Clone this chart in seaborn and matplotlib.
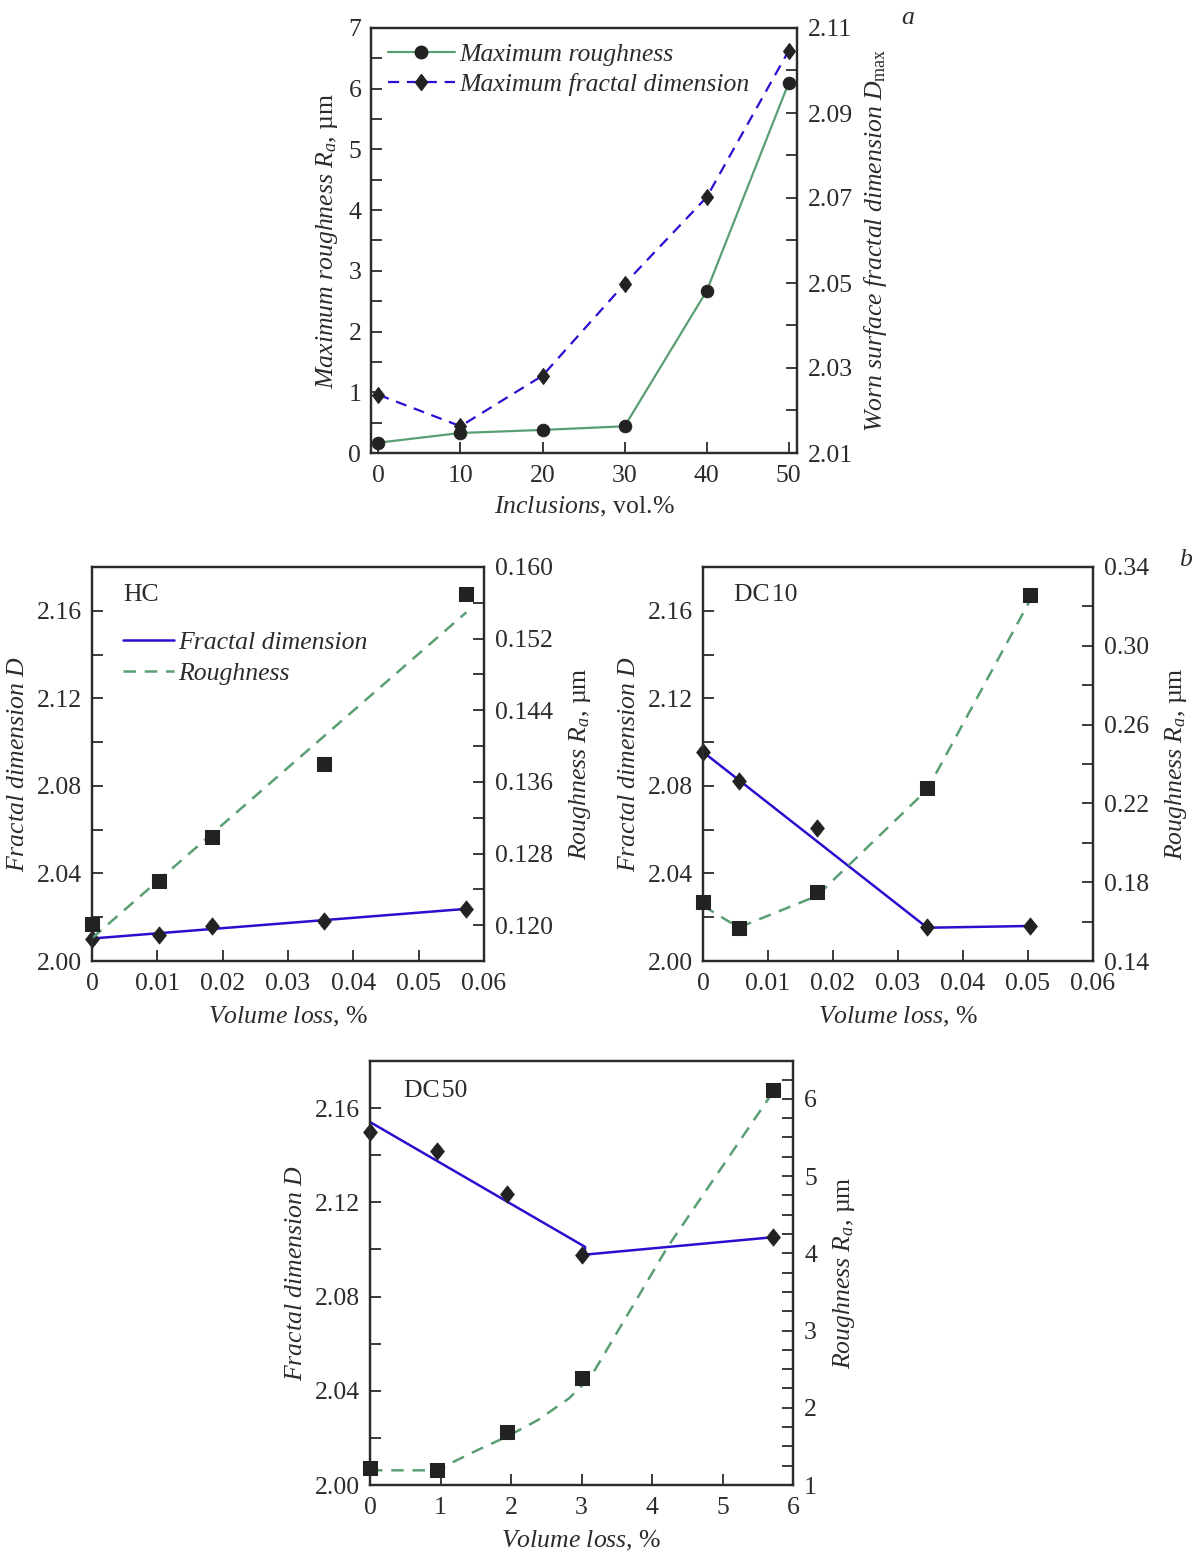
import numpy as np
import pandas as pd
import matplotlib
matplotlib.use("Agg")
import matplotlib.pyplot as plt
from matplotlib.lines import Line2D
from matplotlib.markers import MarkerStyle
from matplotlib.transforms import Affine2D
from matplotlib.ticker import MultipleLocator, FixedLocator, FormatStrFormatter, FuncFormatter
import seaborn as sns

# Data
# panel a
incl = [0, 10, 20, 30, 40, 50]
max_ra = [0.17, 0.33, 0.38, 0.44, 2.67, 6.10]
max_d = [2.0237, 2.0163, 2.0282, 2.0498, 2.0702, 2.1047]

# panel b, HC
hc_vol = [0, 0.0103, 0.0184, 0.0355, 0.0573]
hc_d = [2.0102, 2.0120, 2.0158, 2.0183, 2.0238]
hc_ra = [0.1201, 0.1249, 0.1299, 0.1380, 0.1570]

# panel b, DC10
dc10_vol = [0, 0.0055, 0.0175, 0.0345, 0.0503]
dc10_d = [2.0955, 2.0822, 2.0609, 2.0155, 2.0160]
dc10_ra = [0.170, 0.157, 0.175, 0.228, 0.326]
dc10_fit_vol = [0, 0.0345, 0.0503]
dc10_fit_d = [2.0955, 2.0152, 2.0160]
dc10_curve_ra = [0.168, 0.157, 0.173, 0.227, 0.323]

# panel b, DC50
dc50_vol = [0, 0.95, 1.95, 3.0, 5.72]
dc50_d = [2.1498, 2.1417, 2.1237, 2.0978, 2.1052]
dc50_ra = [1.22, 1.19, 1.68, 2.38, 6.11]
dc50_fit_vol = [0, 3.05, 3.05, 5.72]
dc50_fit_d = [2.1541, 2.1011, 2.0978, 2.1052]
dc50_curve_vol = [0, 0.98, 1.14, 1.52, 1.95, 2.38, 2.82, 3.0, 3.19, 4.22, 5.71]
dc50_curve_ra = [1.19, 1.19, 1.28, 1.45, 1.63, 1.84, 2.12, 2.28, 2.49, 4.08, 6.08]

# Style
sns.set_theme(style="ticks")
plt.rcParams["font.family"] = ["Liberation Serif", "DejaVu Serif"]
plt.rcParams["mathtext.fontset"] = "custom"
plt.rcParams["mathtext.rm"] = "Liberation Serif"
plt.rcParams["mathtext.it"] = "Liberation Serif:italic"
plt.rcParams["mathtext.bf"] = "Liberation Serif:bold"

FS = 18.5
INK = "#2b2b2b"
GREEN = "#5a9f74"
BLUE = "#2a0fd0"
MK = "#222222"
DASH = (0, (5, 3.5))
DIAMOND = MarkerStyle("D", transform=Affine2D().scale(0.8, 1.0))

fig = plt.figure(figsize=(11.97, 15.53), dpi=100)
W, H = 1197, 1553


def make_axes(l, r, t, b):
    return fig.add_axes([l / W, 1 - b / H, (r - l) / W, (b - t) / H])


def style(ax, ax2):
    for a in (ax, ax2):
        for s in a.spines.values():
            s.set_color(INK)
            s.set_linewidth(1.6)
    ax.tick_params(axis="both", which="both", direction="in", colors=INK,
                   labelsize=FS, top=False, right=False, width=1.3)
    ax.tick_params(axis="y", which="both", length=8, pad=7)
    ax.tick_params(axis="x", which="major", length=8, pad=9)
    ax2.tick_params(axis="y", which="both", direction="in", colors=INK,
                    labelsize=FS, length=8, width=1.3, pad=8)


# ---------------- panel a ----------------
ax = make_axes(371, 797, 28, 453)
ax2 = ax.twinx()
sns.lineplot(x=incl, y=max_ra, ax=ax, color=GREEN, lw=1.6, marker="o",
             markersize=9, markerfacecolor=MK, markeredgecolor=MK, zorder=3)
sns.lineplot(x=incl, y=max_d, ax=ax2, color=BLUE, lw=1.6, marker=DIAMOND,
             markersize=8, markerfacecolor=MK, markeredgecolor=MK,
             linestyle=DASH, zorder=3)
ax.set_xlim(-0.9, 51)
ax.set_ylim(0, 7)
ax2.set_ylim(2.01, 2.11)
ax.yaxis.set_major_locator(MultipleLocator(1))
ax.yaxis.set_minor_locator(MultipleLocator(0.5))
ax.xaxis.set_major_locator(MultipleLocator(10))
ax2.yaxis.set_major_locator(FixedLocator([2.01, 2.03, 2.05, 2.07, 2.09, 2.11]))
ax2.yaxis.set_minor_locator(MultipleLocator(0.01))
ax2.yaxis.set_major_formatter(FormatStrFormatter("%.2f"))
ax.set_xlabel(r"$Inclusions$, vol.%", fontsize=FS, color=INK, labelpad=5)
ax.set_ylabel(r"$Maximum\ roughness\ R_a$, µm", fontsize=FS, color=INK, labelpad=6)
ax2.set_ylabel(r"$Worn\ surface\ fractal\ dimension\ D_{\rm max}$", fontsize=FS,
               color=INK, labelpad=6)
style(ax, ax2)
h = [Line2D([], [], color=GREEN, lw=1.6, marker="o", markersize=9,
            markerfacecolor=MK, markeredgecolor=MK),
     Line2D([], [], color=BLUE, lw=1.6, marker=DIAMOND, markersize=8,
            markerfacecolor=MK, markeredgecolor=MK, linestyle=DASH)]
leg = ax2.legend(h, ["Maximum roughness", "Maximum fractal dimension"],
                 loc="upper left", bbox_to_anchor=(0.0, 1.005), frameon=False,
                 handlelength=2.6, handletextpad=0.2, labelspacing=0.3,
                 prop=dict(size=FS, style="italic"), borderaxespad=0.25)
for t in leg.get_texts():
    t.set_color(INK)
fig.text(908 / W, 1 - 18 / H, "a", fontsize=FS, style="italic", color=INK,
         ha="center", va="center")


def panel_b(l, r, t, b, xlim, ra_lim, ra_ticks, ra_minor, xstep, name):
    ax = make_axes(l, r, t, b)
    ax2 = ax.twinx()
    ax.set_xlim(*xlim)
    ax.set_ylim(2.00, 2.18)
    ax2.set_ylim(*ra_lim)
    ax.xaxis.set_major_locator(MultipleLocator(xstep))
    ax.yaxis.set_major_locator(MultipleLocator(0.04))
    ax.yaxis.set_minor_locator(MultipleLocator(0.02))
    ax.yaxis.set_major_formatter(FormatStrFormatter("%.2f"))
    ax2.yaxis.set_major_locator(FixedLocator(ra_ticks))
    ax2.yaxis.set_minor_locator(MultipleLocator(ra_minor))
    ax.set_xlabel(r"$Volume\ loss$, %", fontsize=FS, color=INK, labelpad=7)
    ax.set_ylabel(r"$Fractal\ dimension\ D$", fontsize=FS, color=INK, labelpad=6)
    ax2.set_ylabel(r"$Roughness\ R_a$, µm", fontsize=FS, color=INK, labelpad=10)
    ax.text(0.08, 0.93, name, transform=ax.transAxes, fontsize=FS, color=INK,
            ha="left", va="center")
    return ax, ax2


def xfmt(v, pos):
    return "0" if v == 0 else f"{v:.2f}"


# ---------------- panel b: HC ----------------
ax, ax2 = panel_b(92, 484, 567, 961, (0, 0.06), (0.116, 0.160),
                  [0.120, 0.128, 0.136, 0.144, 0.152, 0.160], 0.004, 0.01, "HC")
sns.regplot(x=np.array(hc_vol), y=np.array(hc_d), ax=ax, ci=None, scatter=False,
            line_kws=dict(color=BLUE, lw=1.8))
sns.regplot(x=np.array(hc_vol), y=np.array(hc_ra), ax=ax2, ci=None, scatter=False,
            line_kws=dict(color=GREEN, lw=1.8, linestyle=DASH))
sns.scatterplot(x=hc_vol, y=hc_d, ax=ax, marker=DIAMOND, s=75, color=MK,
                edgecolor=MK, zorder=4, clip_on=False)
sns.scatterplot(x=hc_vol, y=hc_ra, ax=ax2, marker="s", s=90, color=MK,
                edgecolor=MK, zorder=4, clip_on=False)
ax.xaxis.set_major_formatter(FuncFormatter(xfmt))
ax2.yaxis.set_major_formatter(FormatStrFormatter("%.3f"))
style(ax, ax2)
ax.set_xlim(0, 0.06)
hb = [Line2D([], [], color=BLUE, lw=1.8),
      Line2D([], [], color=GREEN, lw=1.8, linestyle=DASH)]
leg = ax2.legend(hb, ["Fractal dimension", "Roughness"], loc="upper left",
                 bbox_to_anchor=(0.02, 0.895), frameon=False, handlelength=2.0,
                 handletextpad=0.15, labelspacing=0.3,
                 prop=dict(size=FS, style="italic"))
for t in leg.get_texts():
    t.set_color(INK)

# ---------------- panel b: DC10 ----------------
ax, ax2 = panel_b(703, 1093, 567, 961, (0, 0.06), (0.14, 0.34),
                  [0.14, 0.18, 0.22, 0.26, 0.30, 0.34], 0.02, 0.01, "DC\u200a10")
sns.lineplot(x=dc10_fit_vol, y=dc10_fit_d, ax=ax, color=BLUE, lw=1.8,
             sort=False, estimator=None)
sns.lineplot(x=dc10_vol, y=dc10_curve_ra, ax=ax2, color=GREEN, lw=1.8,
             linestyle=DASH, sort=False, estimator=None)
sns.scatterplot(x=dc10_vol, y=dc10_d, ax=ax, marker=DIAMOND, s=75, color=MK,
                edgecolor=MK, zorder=4, clip_on=False)
sns.scatterplot(x=dc10_vol, y=dc10_ra, ax=ax2, marker="s", s=90, color=MK,
                edgecolor=MK, zorder=4, clip_on=False)
ax.xaxis.set_major_formatter(FuncFormatter(xfmt))
ax2.yaxis.set_major_formatter(FormatStrFormatter("%.2f"))
style(ax, ax2)
fig.text(1185 / W, 1 - 560 / H, "b", fontsize=FS, style="italic", color=INK,
         ha="center", va="center")

# ---------------- panel b: DC50 ----------------
ax, ax2 = panel_b(370, 793, 1061, 1485, (0, 6), (1, 6.49),
                  [1, 2, 3, 4, 5, 6], 0.25, 1, "DC\u200a50")
sns.lineplot(x=dc50_fit_vol, y=dc50_fit_d, ax=ax, color=BLUE, lw=1.8,
             sort=False, estimator=None)
sns.lineplot(x=dc50_curve_vol, y=dc50_curve_ra, ax=ax2, color=GREEN, lw=1.8,
             linestyle=DASH, sort=False, estimator=None)
sns.scatterplot(x=dc50_vol, y=dc50_d, ax=ax, marker=DIAMOND, s=75, color=MK,
                edgecolor=MK, zorder=4, clip_on=False)
sns.scatterplot(x=dc50_vol, y=dc50_ra, ax=ax2, marker="s", s=90, color=MK,
                edgecolor=MK, zorder=4, clip_on=False)
ax.xaxis.set_major_formatter(FormatStrFormatter("%d"))
ax2.yaxis.set_major_formatter(FormatStrFormatter("%d"))
style(ax, ax2)

fig.savefig("out.png", dpi=100, facecolor="white")
